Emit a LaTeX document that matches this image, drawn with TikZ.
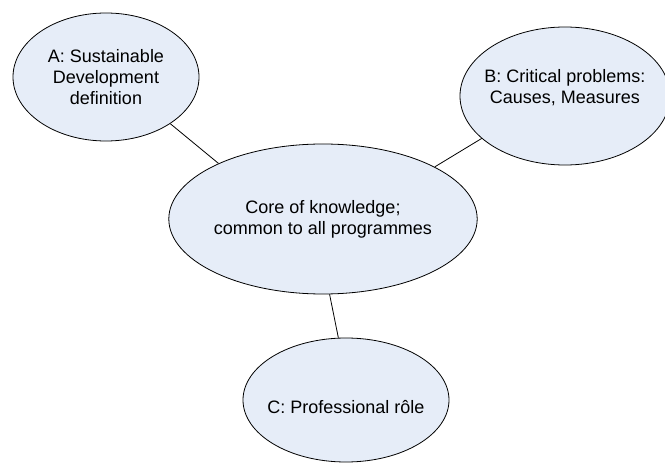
\documentclass[tikz,border=0pt]{standalone}
\usepackage{fontspec}
\setmainfont{Liberation Sans}
\usepackage{tikz}
\usetikzlibrary{shapes.geometric}
\definecolor{bubblefill}{RGB}{230,237,248}

\begin{document}
\begin{tikzpicture}[x=1pt, y=1pt,
  font=\fontsize{18}{21}\selectfont,
  bubble/.style={ellipse, draw=black, line width=0.8pt, fill=bubblefill, inner sep=0pt, align=center},
  link/.style={draw=black, line width=0.8pt}]
\clip (0,0) rectangle (665,464);
\useasboundingbox (0,0) rectangle (665,464);

% Topic bubbles
\node[bubble, minimum width=186, minimum height=128] (sdef) at (106,387) {A: Sustainable\\Development\\definition};
\node[bubble, minimum width=210, minimum height=138,
  label={[align=center, yshift=8]center:B: Critical problems:\\Causes, Measures}] (crit) at (565,368) {};
\node[bubble, minimum width=294, minimum height=150] (core) at (323,245) {Core of knowledge;\\common to all programmes};
\node[bubble, minimum width=206, minimum height=124,
  label={[yshift=-7]center:C: Professional rôle}] (role) at (346,64) {};

% Links to the core
\draw[link] (sdef.-36) -- (core.152);
\draw[link] (crit.207) -- (core.25);
\draw[link] (core.-85) -- (role.97);
\end{tikzpicture}
\end{document}
